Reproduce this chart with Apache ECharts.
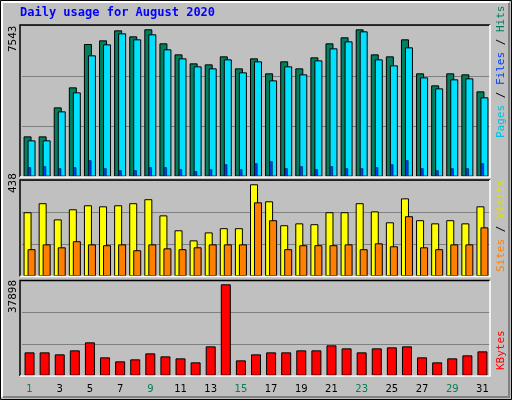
<!DOCTYPE html>
<html><head><meta charset="utf-8">
<script src="https://cdn.jsdelivr.net/npm/echarts@6/dist/echarts.min.js"></script>
<style>html,body{margin:0;padding:0;background:#c0c0c0}#c{width:512px;height:400px}</style>
</head><body><div id="c"></div>
<script>
const days = ['1','2','3','4','5','6','7','8','9','10','11','12','13','14','15','16','17','18','19','20','21','22','23','24','25','26','27','28','29','30','31'];
const weekendDays = ['1','2','8','9','15','16','22','23','29','30'];
const hits = [2064,2064,3548,4572,6790,6977,7489,7182,7543,6824,6261,5800,5749,6159,5545,6056,5289,5903,5545,6107,6824,7131,7541,6261,6159,7029,5289,4674,5289,5237,4367];
const files = [1860,1860,3344,4316,6210,6773,7336,7029,7285,6517,6056,5647,5545,6005,5340,5903,4930,5647,5237,5954,6568,6926,7438,6005,5698,6619,5084,4521,4982,5033,4060];
const pages = [478,529,426,478,836,426,324,324,478,478,375,273,375,631,375,682,785,426,529,375,529,426,426,478,631,836,426,324,426,426,682];
const sites = [305,348,271,319,338,333,338,348,367,290,219,171,209,229,229,438,357,243,252,248,305,305,348,309,257,371,267,252,267,252,333];
const visits = [129,152,138,167,152,148,152,124,152,133,129,138,152,152,152,352,267,129,148,148,148,152,129,157,143,286,138,129,152,152,233];
const kbytes = [9681,9681,8851,10511,13830,7607,5947,6777,9266,8021,7192,5532,12170,37898,6362,8851,9681,9681,10511,10511,12585,11341,9681,11341,11756,12170,7607,5532,7192,8436,10096];
const maxLabels = ['7543','438','37898'];

const chart = echarts.init(document.getElementById('c'));
const L = 22, R = 22;
const grids = [
  {left:L,right:R,top:25.5,height:151.2},
  {left:L,right:R,top:180.5,height:95.8},
  {left:L,right:R,top:280.7,height:95}
];
const maxes = [7737,456,39390];
const xAxes = [0,1,2].map(i=>({gridIndex:i,type:'category',data:days,
  axisLine:{show:false},axisTick:{show:false},
  axisLabel:{show:i===2,fontFamily:'DejaVu Sans',fontSize:10,margin:9,
    color:(v)=>weekendDays.includes(v)?'#00805c':'#000'}}));
xAxes.push({gridIndex:0,type:'category',data:days,show:false});
const yAxes = [0,1,2].map(i=>({gridIndex:i,type:'value',min:0,max:maxes[i],interval:maxes[i]/3,
  axisLabel:{show:false},axisLine:{show:false},axisTick:{show:false},
  splitLine:{lineStyle:{color:'#808080',width:1}}}));
yAxes.push({gridIndex:0,type:'value',min:0,max:maxes[0],show:false});
const bs = {borderColor:'#000',borderWidth:1};
const series = [
  {type:'bar',xAxisIndex:0,yAxisIndex:0,data:hits,barWidth:8,barGap:'-50%',itemStyle:Object.assign({color:'#008060'},bs)},
  {type:'bar',xAxisIndex:0,yAxisIndex:0,data:files,barWidth:8,barGap:'-50%',itemStyle:Object.assign({color:'#00e0ff'},bs)},
  {type:'bar',xAxisIndex:3,yAxisIndex:3,data:pages,barWidth:3,itemStyle:{color:'#0040ff',borderColor:'#000',borderWidth:0.5}},
  {type:'bar',xAxisIndex:1,yAxisIndex:1,data:sites,barWidth:8,barGap:'-50%',itemStyle:Object.assign({color:'#ffff00'},bs)},
  {type:'bar',xAxisIndex:1,yAxisIndex:1,data:visits,barWidth:8,barGap:'-50%',itemStyle:Object.assign({color:'#ff8000'},bs)},
  {type:'bar',xAxisIndex:2,yAxisIndex:2,data:kbytes,barWidth:10,itemStyle:Object.assign({color:'#ff0000'},bs)}
];
const frames = [[25,152],[180,96.5],[280.5,95.5]];
const graphic = [
  {type:'rect',z:-10,shape:{x:0.5,y:0.5,width:511,height:399},style:{fill:'#c0c0c0',stroke:'#000',lineWidth:1}},
  {type:'polyline',z:-9,shape:{points:[[2,397],[2,2],[509,2]]},style:{stroke:'#fff',lineWidth:2,fill:null}},
  {type:'polyline',z:-9,shape:{points:[[3,397],[509,397],[509,3]]},style:{stroke:'#808080',lineWidth:2,fill:null}},
  {type:'text',left:20,top:7,style:{text:'Daily usage for August 2020',fill:'#0000ff',font:'bold 12px "DejaVu Sans Mono"'}}
];
frames.forEach(f=>{
  graphic.push({type:'polyline',z:50,shape:{points:[[20,f[0]+f[1]],[20,f[0]],[490,f[0]]]},style:{stroke:'#000',lineWidth:1.5,fill:null}});
  graphic.push({type:'polyline',z:50,shape:{points:[[20,f[0]+f[1]],[490,f[0]+f[1]],[490,f[0]]]},style:{stroke:'#fff',lineWidth:1.5,fill:null}});
});
graphic.push({type:'text',x:8,y:52,rotation:Math.PI/2,style:{text:maxLabels[0],fill:'#000',font:'11px "DejaVu Sans Mono"'}});
graphic.push({type:'text',x:8,y:193,rotation:Math.PI/2,style:{text:maxLabels[1],fill:'#000',font:'11px "DejaVu Sans Mono"'}});
graphic.push({type:'text',x:8,y:313,rotation:Math.PI/2,style:{text:maxLabels[2],fill:'#000',font:'11px "DejaVu Sans Mono"'}});
function rlab(y,parts){
  graphic.push({type:'text',x:496,y:y,rotation:Math.PI/2,style:{
    text:parts.map((p,i)=>'{s'+i+'|'+p[0]+'}').join(''),
    rich:Object.fromEntries(parts.map((p,i)=>['s'+i,{fill:p[1],font:'11px "DejaVu Sans Mono"'}]))}});
}
rlab(138,[['Pages','#00c0e0'],[' / ','#000'],['Files','#0040ff'],[' / ','#000'],['Hits','#008060']]);
rlab(272,[['Sites','#ff8000'],[' / ','#000'],['Visits','#e0e000']]);
rlab(370,[['KBytes','#ff0000']]);
chart.setOption({animation:false,backgroundColor:'#c0c0c0',grid:grids,xAxis:xAxes,yAxis:yAxes,series:series,graphic:graphic});
</script></body></html>
